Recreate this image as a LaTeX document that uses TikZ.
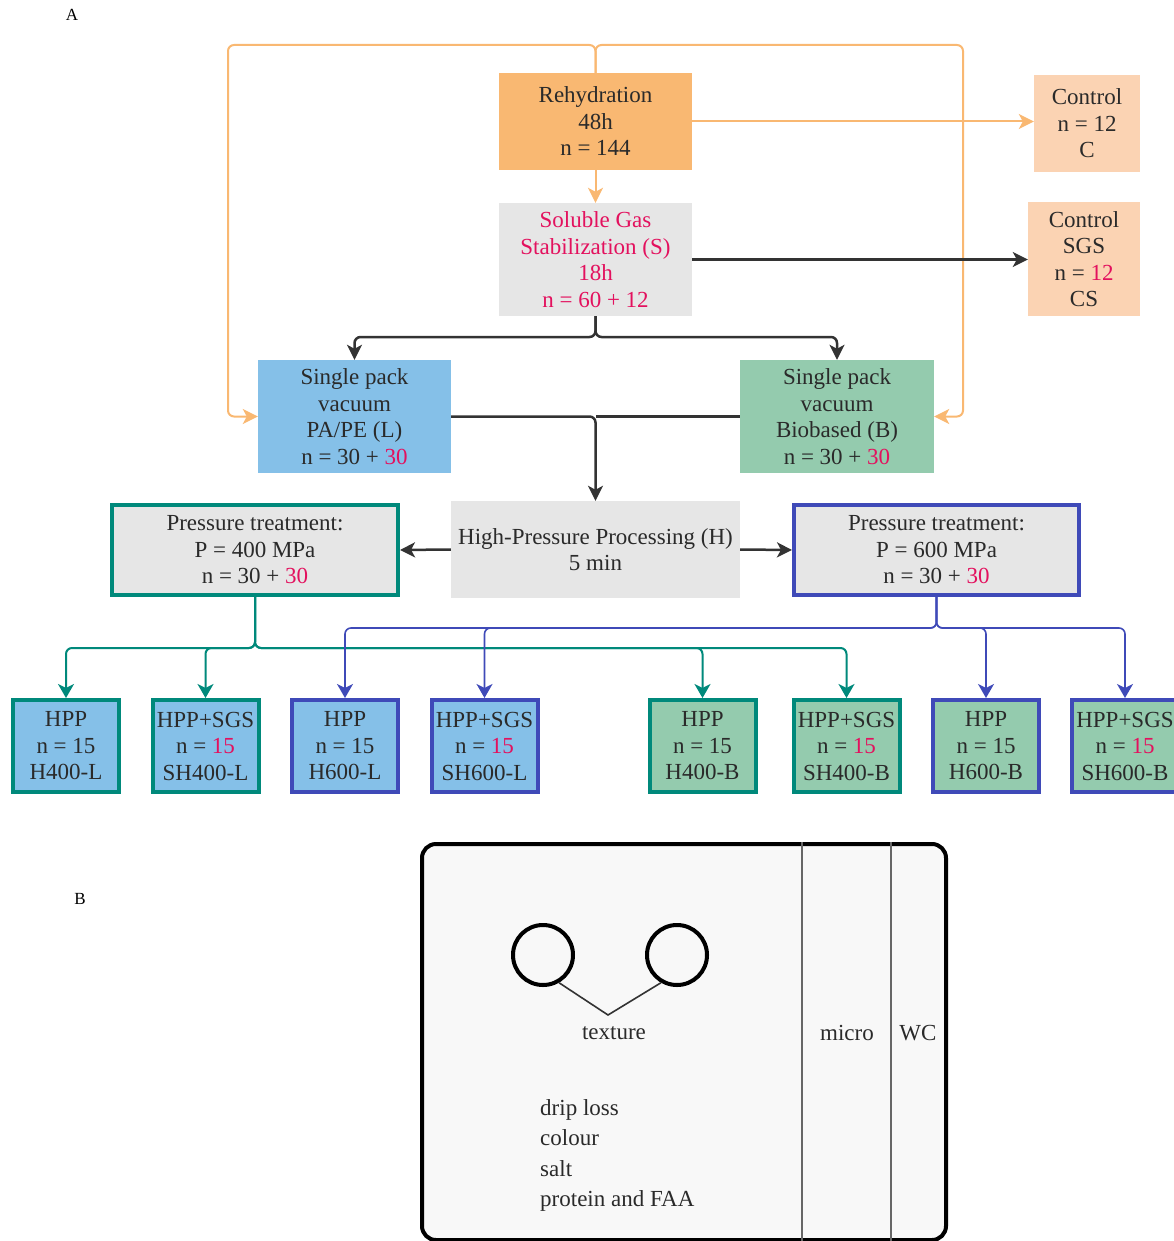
\documentclass[tikz,border=0pt]{standalone}
\usepackage{fontspec}
\setmainfont{Liberation Serif}
\usetikzlibrary{arrows.meta}
\definecolor{orfill}{HTML}{F9B872}
\definecolor{peach}{HTML}{FBD3B3}
\definecolor{grayfill}{HTML}{E6E6E6}
\definecolor{bluefill}{HTML}{85C0E8}
\definecolor{greenfill}{HTML}{94CBAE}
\definecolor{tealc}{HTML}{00897B}
\definecolor{bluec}{HTML}{3F4AB8}
\definecolor{pinkc}{HTML}{E3115E}
\definecolor{txt}{HTML}{2A2A2A}
\definecolor{orline}{HTML}{F9B872}
\definecolor{panel}{HTML}{F8F8F8}
\newcommand\pnk[1]{\textcolor{pinkc}{#1}}
\tikzset{
  ohead/.tip={Stealth[length=15pt,width=15pt,inset=4pt]},
  khead/.tip={Stealth[length=15pt,width=15pt,inset=4pt]},
  thead/.tip={Stealth[length=14pt,width=16pt,inset=4pt]},
}
\begin{document}
\begin{tikzpicture}[x=1pt,y=-1pt,
  box/.style={rectangle, inner sep=0pt, align=center, text=txt, font=\fontsize{23}{26.5}\selectfont},
  tbox/.style={box, draw=tealc, line width=4pt},
  bbox/.style={box, draw=bluec, line width=4pt},
  small/.style={box, minimum width=106pt, minimum height=92pt},
  oarr/.style={draw=orline, line width=2pt, -ohead},
  karr/.style={draw=black!80, line width=2.5pt, -khead},
  tarr/.style={draw=tealc, line width=2pt, -thead},
  barr/.style={draw=bluec, line width=1.6pt, -thead},
  rc/.style={rounded corners=6pt},
  lbl/.style={text=black, font=\fontsize{17}{20}\selectfont},
  ptxt/.style={text=txt, font=\fontsize{23}{30.5}\selectfont, inner sep=0pt}
]
\useasboundingbox (0,0) rectangle (1174,1241);

\node[lbl] (la) at (72,15) {A};
\node[lbl] (lb) at (80,899) {B};

% top nodes
\node[box, fill=orfill, minimum width=193pt, minimum height=97pt] (reh) at (595.5,121.5) {Rehydration\\48h\\n = 144};
\node[box, fill=grayfill, text=pinkc, minimum width=193pt, minimum height=113pt] (sgs) at (595.5,259.5) {Soluble Gas\\Stabilization (S)\\18h\\n = 60 + 12};
\node[box, fill=peach, minimum width=106pt, minimum height=97pt] (ctl) at (1087,123.5) {Control\\n = 12\\C};
\node[box, fill=peach, minimum width=112pt, minimum height=114pt] (ctls) at (1084,259) {Control\\SGS\\n = \pnk{12}\\CS};
\node[box, fill=bluefill, minimum width=193pt, minimum height=113pt] (spl) at (354.5,416.5) {Single pack\\vacuum\\PA/PE (L)\\n = 30 + \pnk{30}};
\node[box, fill=greenfill, minimum width=194pt, minimum height=113pt] (spb) at (837,416.5) {Single pack\\vacuum\\Biobased (B)\\n = 30 + \pnk{30}};
\node[box, fill=grayfill, minimum width=289pt, minimum height=97pt] (hpp) at (595.5,549.5) {High-Pressure Processing (H)\\5 min};
\node[tbox, fill=grayfill, minimum width=286pt, minimum height=90pt] (p400) at (255,550) {Pressure treatment:\\P = 400 MPa\\n = 30 + \pnk{30}};
\node[bbox, fill=grayfill, minimum width=285pt, minimum height=90pt] (p600) at (936.5,550) {Pressure treatment:\\P = 600 MPa\\n = 30 + \pnk{30}};

% bottom nodes
\node[tbox, small, fill=bluefill] (b1) at (66,746) {HPP\\n = 15\\H400-L};
\node[tbox, small, fill=bluefill] (b2) at (205.5,746) {HPP+SGS\\n = \pnk{15}\\SH400-L};
\node[bbox, small, fill=bluefill] (b3) at (345,746) {HPP\\n = 15\\H600-L};
\node[bbox, small, fill=bluefill] (b4) at (484.5,746) {HPP+SGS\\n = \pnk{15}\\SH600-L};
\node[tbox, small, fill=greenfill] (b5) at (702.5,746) {HPP\\n = 15\\H400-B};
\node[tbox, small, fill=greenfill] (b6) at (846.5,746) {HPP+SGS\\n = \pnk{15}\\SH400-B};
\node[bbox, small, fill=greenfill] (b7) at (986,746) {HPP\\n = 15\\H600-B};
\node[bbox, small, fill=greenfill] (b8) at (1125,746) {HPP+SGS\\n = \pnk{15}\\SH600-B};

% orange connectors
\coordinate (otl) at (228,45);
\coordinate (otr) at (963,45);
\draw[oarr, rc] (reh.north) -- (reh.north |- otl) -- (otl) -- (otl |- spl.west) -- (spl.west);
\draw[oarr, rc] (reh.north) -- (reh.north |- otr) -- (otr) -- (otr |- spb.east) -- (spb.east);
\draw[oarr] (reh.east) -- (reh.east -| ctl.west);
\draw[oarr] (reh.south) -- (sgs.north);

% black connectors
\draw[karr] (sgs.east) -- (sgs.east -| ctls.west);
\coordinate (sj) at (595.5,337);
\draw[karr, rc] (sgs.south) -- (sj) -| (spl.north);
\draw[karr, rc] (sgs.south) -- (sj) -| (spb.north);
\coordinate (hj) at (hpp.north |- spl.east);
\draw[karr, rc] (spl.east) -- (hj) -- (hpp.north);
\draw[karr, -] (spb.west) -- (hj);
\draw[karr] (hpp.west) -- (p400.east);
\draw[karr] (hpp.east) -- (p600.west);

% teal connectors
\coordinate (tj) at (255,648);
\foreach \b in {b1,b2,b5,b6} \draw[tarr, rc] (p400.south) -- (tj) -| (\b.north);
% blue connectors
\coordinate (bj) at (936.5,628);
\foreach \b in {b3,b4,b7,b8} \draw[barr, rc] (p600.south) -- (bj) -| (\b.north);

% panel B
\node[draw=black, line width=4pt, rounded corners=14pt, fill=panel, minimum width=524pt, minimum height=396pt, inner sep=0pt] (pan) at (684,1042) {};
\coordinate (v1) at (802,0);
\coordinate (v2) at (891,0);
\draw[draw=black!60, line width=2pt] (pan.north -| v1) -- (pan.south -| v1);
\draw[draw=black!60, line width=2pt] (pan.north -| v2) -- (pan.south -| v2);
\node[circle, draw=black, line width=4pt, minimum size=60pt, inner sep=0pt] (c1) at (543,955) {};
\node[circle, draw=black, line width=4pt, minimum size=60pt, inner sep=0pt] (c2) at (677,955) {};
\coordinate (cv) at (608,1015);
\draw[black!80, line width=1.6pt] (c1.-60) -- (cv) -- (c2.-120);
\node[ptxt] (tex) at (614,1033) {texture};
\node[ptxt] (mic) at (847,1033) {micro};
\node[ptxt] (wc) at (918,1033) {WC};
\node[ptxt, align=left, anchor=north west] (lst) at (540,1099) {drip loss\\colour\\salt\\protein and FAA};
\end{tikzpicture}
\end{document}
